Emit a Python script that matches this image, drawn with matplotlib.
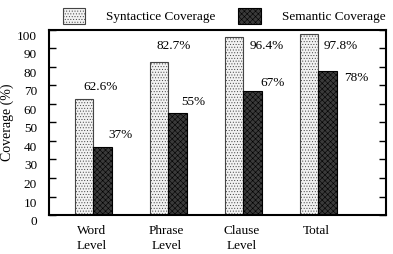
import matplotlib
matplotlib.use("Agg")
from matplotlib import pyplot as plt
import numpy as np

categories = ["Word\nLevel", "Phrase\nLevel", "Clause\nLevel", "Total"]
syntactic = [62.6, 82.7, 96.4, 97.8]
semantic = [37, 55, 67, 78]
syn_labels = ["62.6%", "82.7%", "96.4%", "97.8%"]
sem_labels = ["37%", "55%", "67%", "78%"]
series_names = ["Syntactice Coverage", "Semantic Coverage"]
yticks = [0, 10, 20, 30, 40, 50, 60, 70, 80, 90, 100]

# label offsets (pixels) from the bar's top centre
syn_off = [(16, 12), (15, 16), (33, -9), (32, -12)]
sem_off = [(18, 12), (16, 11), (20, 8), (29, -7)]

plt.rcParams['font.family'] = ['Liberation Serif', 'DejaVu Serif']
plt.rcParams['font.size'] = 9.5
plt.rcParams['hatch.linewidth'] = 0.4

fig = plt.figure(figsize=(3.93, 2.54), dpi=100)
ax = fig.add_axes([0.1247, 0.1535, 0.8573, 0.7285])

x = np.arange(len(categories))
w = 0.247
b1 = ax.bar(x - w/2, syntactic, w, facecolor='#f2f2f2', edgecolor='#444444',
            hatch='......', linewidth=0.8, label=series_names[0])
b2 = ax.bar(x + w/2, semantic, w, facecolor='#3a3a3a', edgecolor='black',
            hatch='xxxxxx', linewidth=0.8, label=series_names[1])

for i in range(len(x)):
    ax.annotate(syn_labels[i], (x[i] - w/2, syntactic[i]), xytext=syn_off[i],
                textcoords='offset pixels', ha='center', va='center')
    ax.annotate(sem_labels[i], (x[i] + w/2, semantic[i]), xytext=sem_off[i],
                textcoords='offset pixels', ha='center', va='center')

ax.set_xlim(-0.594, 3.905)
ax.set_ylim(0, 98.5)
ax.set_yticks(yticks)
ax.set_yticklabels([])
ax.tick_params(axis='y', direction='in', length=5, width=1, right=True, left=True)
ax.set_xticks(x)
ax.set_xticklabels([])
ax.tick_params(axis='x', length=0)

for v in yticks:
    ax.annotate(str(v), (0, v), xycoords=('axes fraction', 'data'), xytext=(-12, -7),
                textcoords='offset pixels', ha='right', va='center',
                annotation_clip=False)
for i, c in enumerate(categories):
    ax.annotate(c, (x[i], 0), xytext=(-2, -10), textcoords='offset pixels',
                ha='center', va='top', linespacing=1.35,
                annotation_clip=False)

ax.set_ylabel("Coverage (%)", fontsize=10, labelpad=22)
for s in ax.spines.values():
    s.set_linewidth(1.5)

fig.legend(handles=[b1, b2], loc='upper center', bbox_to_anchor=(0.57, 1.0), ncol=2,
           frameon=False, handlelength=1.7, handleheight=1.5, handletextpad=1.6,
           columnspacing=1.7, borderaxespad=0.2)

fig.savefig("out.png", dpi=100)
